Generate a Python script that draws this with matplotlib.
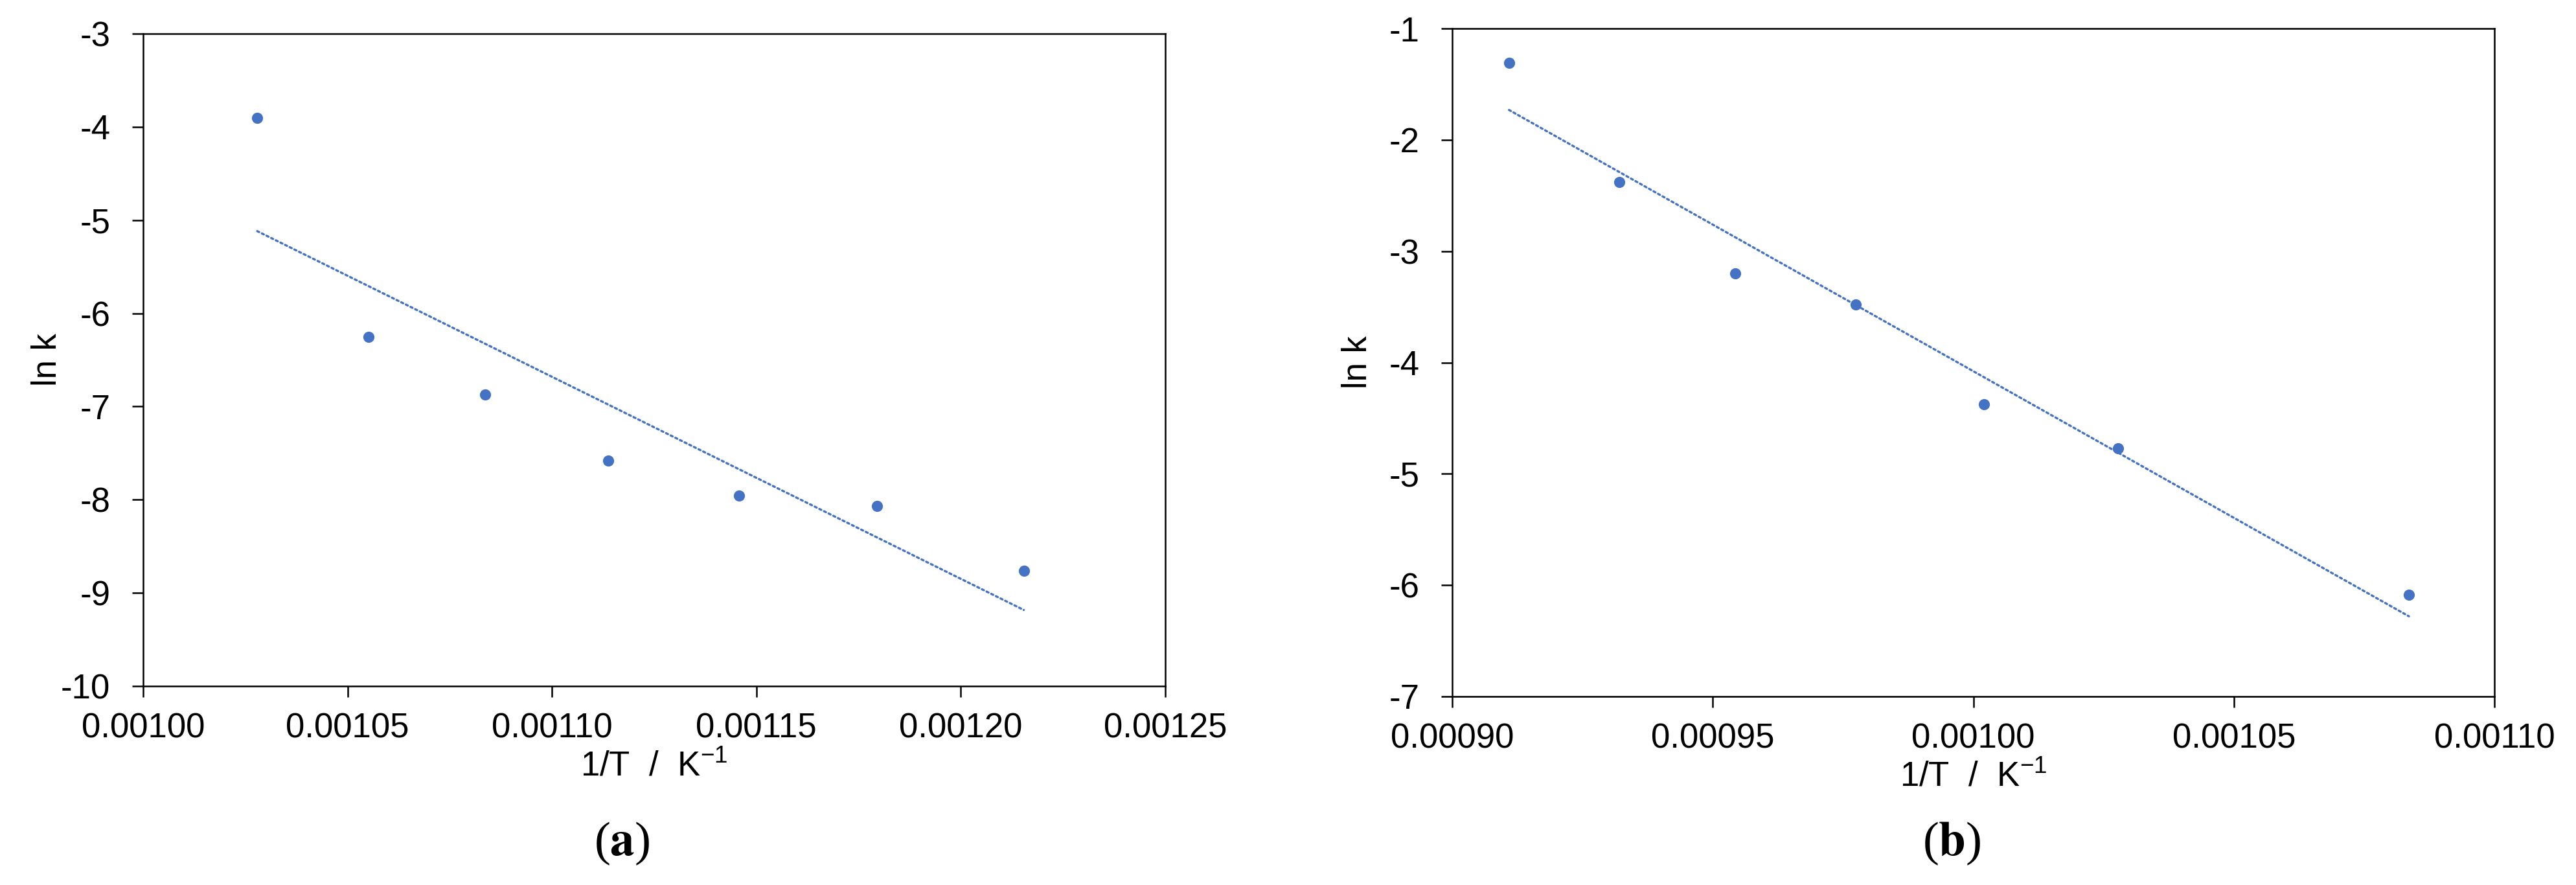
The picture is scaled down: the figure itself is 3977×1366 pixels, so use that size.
import numpy as np
import matplotlib
matplotlib.use("Agg")
import matplotlib.pyplot as plt
from matplotlib.ticker import FormatStrFormatter

plt.rcParams['font.family'] = ['Liberation Sans', 'DejaVu Sans']
plt.rcParams['mathtext.fontset'] = 'custom'
plt.rcParams['mathtext.rm'] = 'Liberation Sans'
plt.rcParams['mathtext.default'] = 'regular'
plt.rcParams['axes.unicode_minus'] = False

# Panel (a)
invT_a = [0.0010279, 0.0010551, 0.0010837, 0.0011137, 0.0011457, 0.0011795, 0.0012154]
lnk_a = [-3.903, -6.252, -6.871, -7.582, -7.957, -8.066, -8.761]
# Panel (b)
invT_b = [0.0009109, 0.0009321, 0.0009543, 0.0009775, 0.0010021, 0.0010278, 0.0010836]
lnk_b = [-1.309, -2.380, -3.202, -3.480, -4.376, -4.772, -6.087]

xticks_a = [0.00100, 0.00105, 0.00110, 0.00115, 0.00120, 0.00125]
yticks_a = [-10, -9, -8, -7, -6, -5, -4, -3]
xticks_b = [0.00090, 0.00095, 0.00100, 0.00105, 0.00110]
yticks_b = [-7, -6, -5, -4, -3, -2, -1]

xlabel = '1/T  /  K$^{-1}$'
ylabel = 'ln k'
captions = ['a', 'b']

W, H = 3977, 1366
dpi = 100
fig = plt.figure(figsize=(W / dpi, H / dpi), dpi=dpi)

blue = '#4472C4'
fs = 38

def panel(rect, x, y, xt, yt, cap, capx, ylab_x):
    ax = fig.add_axes(rect)
    ax.scatter(x, y, s=12.4 ** 2, color=blue, zorder=3, linewidths=0)
    k, b = np.polyfit(x, y, 1)
    xs = np.array([min(x), max(x)])
    ax.plot(xs, k * xs + b, color=blue, lw=2.4, linestyle=(0, (1, 1.4)),
            dash_capstyle='round', zorder=2)
    ax.set_xlim(xt[0], xt[-1])
    ax.set_ylim(yt[0], yt[-1])
    ax.set_xticks(xt)
    ax.set_yticks(yt)
    ax.xaxis.set_major_formatter(FormatStrFormatter('%.5f'))
    ax.yaxis.set_major_formatter(FormatStrFormatter('%d'))
    ax.tick_params(axis='both', direction='out', length=12.5, width=1.8,
                   labelsize=fs, color='black')
    ax.tick_params(axis='x', pad=17)
    ax.tick_params(axis='y', pad=24)
    for s in ax.spines.values():
        s.set_linewidth(1.8)
        s.set_color('black')
    ax.set_xlabel(xlabel, fontsize=fs, labelpad=6)
    ax.set_ylabel(ylabel, fontsize=fs)
    ax.yaxis.set_label_coords(ylab_x, 0.5)
    fig.text(capx, 1 - 1302 / H, r'($\mathbf{' + cap + '}$)', fontsize=54,
             family=['Liberation Serif'], math_fontfamily='stix',
             ha='center', va='center')
    return ax

ax1 = panel([221 / W, 1 - 1059 / H, (1799 - 221) / W, (1059 - 52) / H],
            invT_a, lnk_a, xticks_a, yticks_a, captions[0], 960 / W, -0.078)
ax2 = panel([2242 / W, 1 - 1075 / H, (3851 - 2242) / W, (1075 - 44) / H],
            invT_b, lnk_b, xticks_b, yticks_b, captions[1], 3013 / W, -0.075)

fig.savefig('out.png', dpi=dpi)
